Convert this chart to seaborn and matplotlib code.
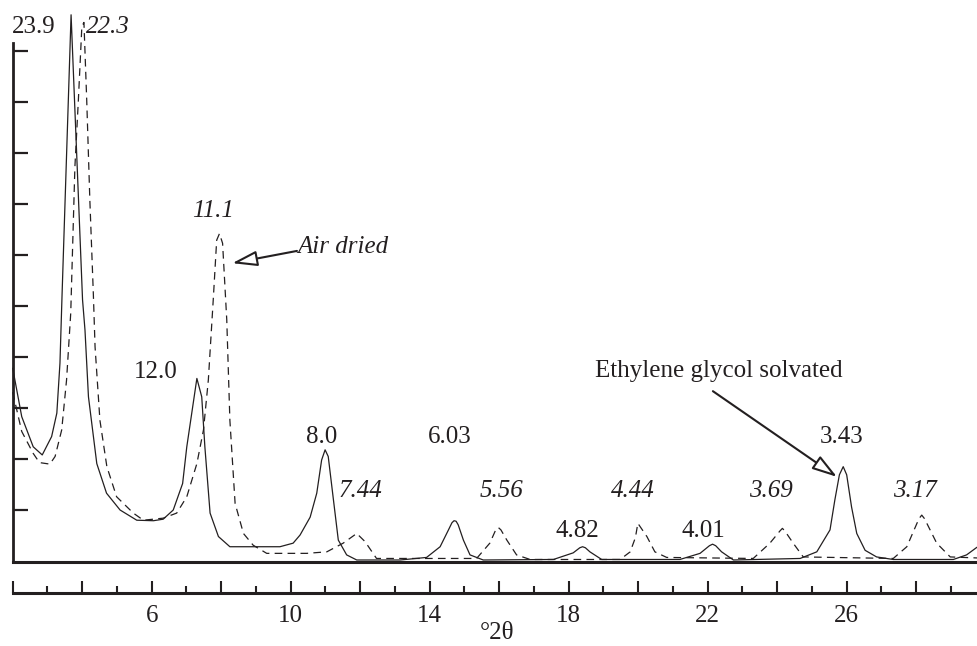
import matplotlib
matplotlib.use("Agg")
import matplotlib.pyplot as plt
import seaborn as sns
import pandas as pd
from matplotlib.ticker import FixedLocator, FuncFormatter

# ---------------- data ----------------
eg_x = [2.00, 2.26, 2.59, 2.85, 3.12, 3.27, 3.36, 3.42, 3.68, 4.01, 4.08, 4.18,
        4.42, 4.70, 5.09, 5.57, 6.05, 6.33, 6.62, 6.89, 7.01, 7.30, 7.44, 7.53,
        7.68, 7.92, 8.25, 9.69, 10.07, 10.27, 10.56, 10.75, 10.89, 10.99, 11.08,
        11.23, 11.37, 11.61, 11.90, 13.15, 13.91, 14.30, 14.54, 14.64, 14.70,
        14.76, 14.82, 14.97, 15.16, 15.54, 17.56, 18.13, 18.32, 18.40, 18.48,
        18.61, 18.95, 21.20, 21.78, 22.05, 22.14, 22.23, 22.40, 22.74, 24.66,
        25.14, 25.52, 25.66, 25.79, 25.90, 26.00, 26.14, 26.29, 26.53, 26.86,
        27.34, 29.07, 29.45, 29.75]
eg_y = [3.77, 2.82, 2.23, 2.07, 2.43, 2.89, 3.87, 5.20, 10.70, 5.11, 4.52, 3.21,
        1.90, 1.32, 0.99, 0.79, 0.78, 0.81, 0.99, 1.51, 2.23, 3.57, 3.21, 2.23,
        0.93, 0.47, 0.27, 0.27, 0.34, 0.50, 0.85, 1.32, 1.97, 2.17, 2.04,
        1.19, 0.40, 0.11, 0.01, 0.01, 0.06, 0.27, 0.60, 0.74, 0.78,
        0.77, 0.70, 0.40, 0.11, 0.01, 0.02, 0.15, 0.25, 0.27, 0.25,
        0.17, 0.02, 0.02, 0.14, 0.29, 0.32, 0.29, 0.17, 0.01, 0.04,
        0.17, 0.60, 1.19, 1.68, 1.84, 1.68, 1.05, 0.53, 0.20, 0.07,
        0.02, 0.02, 0.11, 0.26]

ad_x = [2.00, 2.26, 2.59, 2.77, 3.07, 3.22, 3.41, 3.55, 3.67, 3.79, 3.89, 3.99,
        4.05, 4.13, 4.22, 4.32, 4.37, 4.51, 4.71, 4.99, 5.47, 5.76, 6.33, 6.72,
        7.01, 7.30, 7.49, 7.63, 7.77, 7.87, 7.95, 8.04, 8.16, 8.25, 8.40, 8.64,
        8.92, 9.31, 10.46, 11.04, 11.51, 11.90, 12.14, 12.47, 15.35, 15.73,
        15.90, 15.97, 16.05, 16.22, 16.50, 16.89, 19.48, 19.77, 19.92, 19.99,
        20.07, 20.25, 20.48, 20.82, 23.31, 23.79, 24.08, 24.15, 24.22, 24.46,
        24.75, 27.34, 27.73, 28.08, 28.16, 28.24, 28.59, 28.98, 29.75]
ad_y = [3.30, 2.53, 2.10, 1.92, 1.89, 2.04, 2.56, 3.54, 4.85, 7.72, 9.03, 10.47,
        10.55, 9.03, 7.07, 5.24, 4.19, 2.75, 1.84, 1.25, 0.93, 0.79, 0.83, 0.93,
        1.25, 1.90, 2.56, 3.54, 5.10, 6.28, 6.41, 6.22, 4.72, 2.75, 1.12, 0.53,
        0.30, 0.14, 0.14, 0.17, 0.34, 0.53, 0.37, 0.04, 0.04, 0.34,
        0.60, 0.65, 0.60, 0.40, 0.11, 0.02, 0.02, 0.17, 0.45, 0.73,
        0.65, 0.47, 0.17, 0.06, 0.04, 0.34, 0.58, 0.63, 0.58, 0.34,
        0.07, 0.04, 0.27, 0.82, 0.89, 0.82, 0.34, 0.07, 0.05]

# peak labels: text, x, baseline y, italic?
peak_labels = ["23.9", "22.3", "11.1", "12.0", "8.0", "7.44", "6.03", "5.56",
               "4.82", "4.44", "4.01", "3.69", "3.43", "3.17"]
peak_label_x = [2.61, 4.74, 7.76, 6.12, 10.90, 12.02, 14.59, 16.08,
                18.24, 19.85, 21.87, 23.82, 25.84, 27.97]
peak_label_y = [10.34, 10.34, 6.74, 3.58, 2.30, 1.245, 2.30, 1.245,
                0.47, 1.25, 0.47, 1.25, 2.30, 1.25]
peak_label_italic = [False, True, True, False, False, True, False, True,
                     False, True, False, True, False, True]

x_ticks_major = list(range(2, 30, 2))
x_ticks_minor = list(range(3, 30, 2))
x_tick_labels = {6: "6", 10: "10", 14: "14", 18: "18", 22: "22", 26: "26"}
y_ticks = list(range(1, 11))

# ---------------- style ----------------
sns.set_theme(style="white")
plt.rcParams["font.family"] = ["Liberation Serif", "DejaVu Serif"]
plt.rcParams["lines.scale_dashes"] = False
INK = "#231f20"

W, H = 977, 646
fig = plt.figure(figsize=(W / 100, H / 100), dpi=100)
fig.patch.set_facecolor("white")

x0_px, x1_px = 12.7, 977.0
y0_px, unit_px = 560.5, 51.0
bot_px = 562.0
ax = fig.add_axes([x0_px / W, (H - bot_px) / H, (x1_px - x0_px) / W, bot_px / H])
ax.set_facecolor("white")

df_eg = pd.DataFrame({"theta": eg_x, "intensity": eg_y})
df_ad = pd.DataFrame({"theta": ad_x, "intensity": ad_y})
sns.lineplot(data=df_eg, x="theta", y="intensity", ax=ax, color=INK, lw=0.9,
             estimator=None, sort=False, clip_on=False)
sns.lineplot(data=df_ad, x="theta", y="intensity", ax=ax, color=INK, lw=0.9,
             estimator=None, sort=False, linestyle=(0, (5.5, 3.8)), clip_on=False)

ax.set_xlim(2, 29.75)
ax.set_ylim(-(bot_px - y0_px) / unit_px, y0_px / unit_px)
ax.set_xlabel("")
ax.set_ylabel("")
for s in ["top", "right"]:
    ax.spines[s].set_visible(False)
ax.spines["left"].set_color(INK)
ax.spines["left"].set_linewidth(2.0)
ax.spines["left"].set_bounds(ax.get_ylim()[0], (y0_px - 43) / unit_px)
ax.spines["bottom"].set_color(INK)
ax.spines["bottom"].set_linewidth(2.2)
ax.set_xticks([])
ax.yaxis.set_major_locator(FixedLocator(y_ticks))
ax.tick_params(axis="y", direction="in", length=10.5, width=1.6, color=INK,
               labelleft=False, left=True)
ax.grid(False)

# peak labels
for t, xx, yy, it in zip(peak_labels, peak_label_x, peak_label_y, peak_label_italic):
    ax.text(xx, yy, t, ha="center", va="baseline", fontsize=18, color=INK,
            style="italic" if it else "normal", clip_on=False)

# Air dried annotation
ax.text(10.18, 6.02, "Air dried", ha="left", va="baseline", fontsize=18,
        style="italic", color=INK)
arrow_kw = dict(arrowstyle="-|>,head_length=0.85,head_width=0.26",
                fc="white", ec=INK, lw=1.5, shrinkA=0, shrinkB=0,
                mutation_scale=18)
ax.annotate("", xy=(8.32, 5.83), xytext=(10.18, 6.07), arrowprops=arrow_kw)

# Ethylene glycol annotation
ax.text(22.33, 3.60, "Ethylene glycol solvated", ha="center", va="baseline",
        fontsize=18, color=INK)
ax.annotate("", xy=(25.72, 1.64), xytext=(22.15, 3.32), arrowprops=arrow_kw)

# ---------------- separate scale strip ----------------
strip_px = 593.0
ax2 = fig.add_axes([x0_px / W, (H - strip_px) / H, (x1_px - x0_px) / W, 0.01])
ax2.set_facecolor("none")
ax2.set_xlim(2, 29.75)
for s in ["top", "right", "left"]:
    ax2.spines[s].set_visible(False)
ax2.spines["bottom"].set_color(INK)
ax2.spines["bottom"].set_linewidth(2.2)
ax2.set_yticks([])
ax2.xaxis.set_major_locator(FixedLocator(x_ticks_major))
ax2.xaxis.set_minor_locator(FixedLocator(x_ticks_minor))
ax2.xaxis.set_major_formatter(FuncFormatter(lambda v, p: x_tick_labels.get(int(round(v)), "")))
ax2.tick_params(axis="x", which="major", direction="in", length=8.4, width=1.5,
                color=INK, labelsize=18, labelcolor=INK, pad=9, bottom=True)
ax2.tick_params(axis="x", which="minor", direction="in", length=4.8, width=1.5,
                color=INK, bottom=True)
ax2.grid(False)

fig.text(497 / W, (H - 633) / H, "°2θ", ha="center", va="center", fontsize=18,
         color=INK)

fig.savefig("out.png", dpi=100, facecolor="white")
